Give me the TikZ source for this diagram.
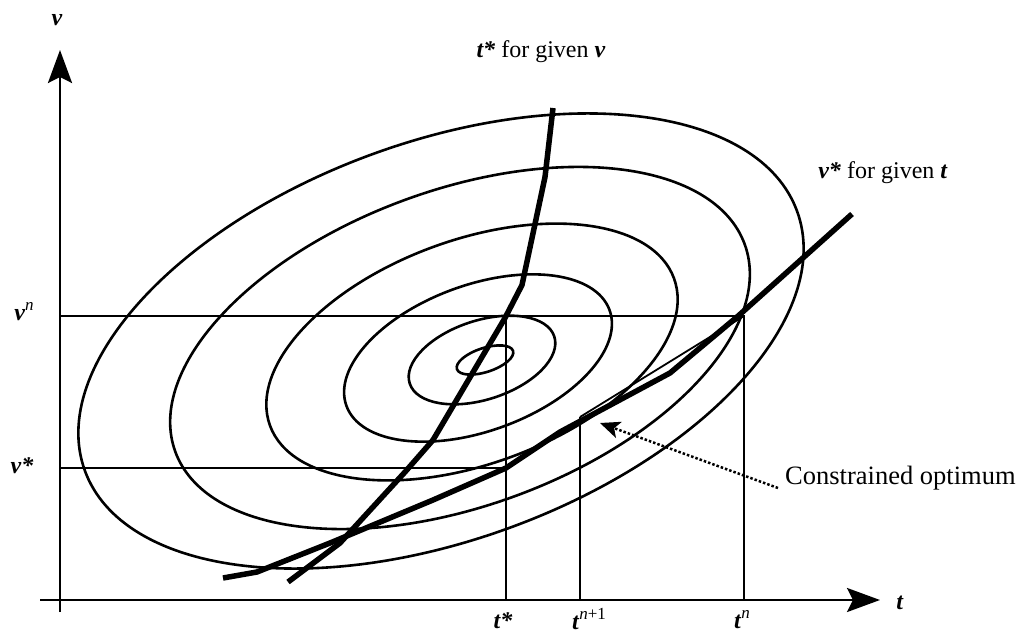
\documentclass[tikz,border=0pt]{standalone}
\usepackage{fontspec}
\setmainfont{Liberation Serif}
\usetikzlibrary{arrows.meta}
\newcommand\mysups[1]{\raisebox{0.42em}{\fontsize{17}{18}\selectfont #1}}
\begin{document}
\begin{tikzpicture}[x=1pt,y=-1pt,
  lab/.style={inner sep=0pt, font=\fontsize{24}{28}\selectfont},
  ell/.style={line width=2.6pt},
  thinln/.style={line width=1.8pt},
  thickcurve/.style={line width=5.5pt, line join=round},
  axis/.style={line width=2.8pt, -{Stealth[length=33pt,width=24pt,inset=6pt]}}
]
\useasboundingbox (0,0) rectangle (1022,639);
\fill[white] (0,0) rectangle (1022,639);
% coordinates
\coordinate (O) at (60,612);
\coordinate (Ytip) at (60,50);
\coordinate (Xs) at (40,600);
\coordinate (Xtip) at (880,600);
\coordinate (VnL) at (60,316);
\coordinate (VnR) at (744,316);
\coordinate (VsL) at (60,468);
\coordinate (VsR) at (506,468);
\coordinate (TsT) at (506,316);
\coordinate (TsB) at (506,600);
\coordinate (Tn1T) at (580,417);
\coordinate (Tn1B) at (580,600);
\coordinate (TnB) at (744,600);
% ellipses
\draw[ell, rotate around={18:(485,360)}] (485,360) ellipse [x radius=29.5, y radius=12];
\draw[ell, rotate around={18:(482,360)}] (482,360) ellipse [x radius=76, y radius=39.5];
\draw[ell, rotate around={20:(478,358)}] (478,358) ellipse [x radius=140, y radius=73];
\draw[ell, rotate around={20:(472,352)}] (472,352) ellipse [x radius=215, y radius=112];
\draw[ell, rotate around={20:(460,348)}] (460,348) ellipse [x radius=303, y radius=158];
\draw[ell, rotate around={20:(441,341)}] (441,341) ellipse [x radius=379, y radius=199];
% thin guide lines
\draw[thinln] (VnL) -- (VnR) -- (TnB);
\draw[thinln] (VsL) -- (VsR);
\draw[thinln] (TsT) -- (TsB);
\draw[thinln] (Tn1T) -- (Tn1B);
\draw[thinln] (VnR) -- (Tn1T);
% axes
\draw[axis] (O) -- (Ytip);
\draw[axis] (Xs) -- (Xtip);
% thick curves
\draw[thickcurve] (553,108) -- (545,177) -- (522,285) -- (505,318) -- (433,440) -- (405,472) -- (340,543) -- (288,582);
\draw[thickcurve] (223,578) -- (257,572) -- (330,543) -- (433,500) -- (506,468) -- (560,432) -- (670,373) -- (737,317) -- (852,214);
% labels
\node[lab] (vlab) at (57,20) {\textbf{\textit{v}}};
\node[lab] (tlab) at (900,603) {\textbf{\textit{t}}};
\node[lab] (vn) at (24,312) {\textbf{\textit{v}}\mysups{\textit{n}}};
\node[lab] (vs) at (22,466) {\textbf{\textit{v*}}};
\node[lab] (ts) at (503,621) {\textbf{\textit{t*}}};
\node[lab] (tn1) at (589,619) {\textbf{\textit{t}}\mysups{\textit{n}+1}};
\node[lab] (tn) at (742,620) {\textbf{\textit{t}}\mysups{\textit{n}}};
\node[lab] (toplab) at (541,52) {\textbf{\textit{t*}} for given \textbf{\textit{v}}};
\node[lab] (rightlab) at (883,173) {\textbf{\textit{v*}} for given \textbf{\textit{t}}};
\node[lab, anchor=west, font=\fontsize{26.5}{30}\selectfont] (co) at (785,478) {Constrained optimum};
\coordinate (arrtip) at (600,423);
\draw[line width=2.5pt, dash pattern=on 2.5pt off 2pt, -{Stealth[length=20pt,width=17pt,inset=5pt]}] (co.west) ++(-7,10) -- (arrtip);
\end{tikzpicture}
\end{document}
